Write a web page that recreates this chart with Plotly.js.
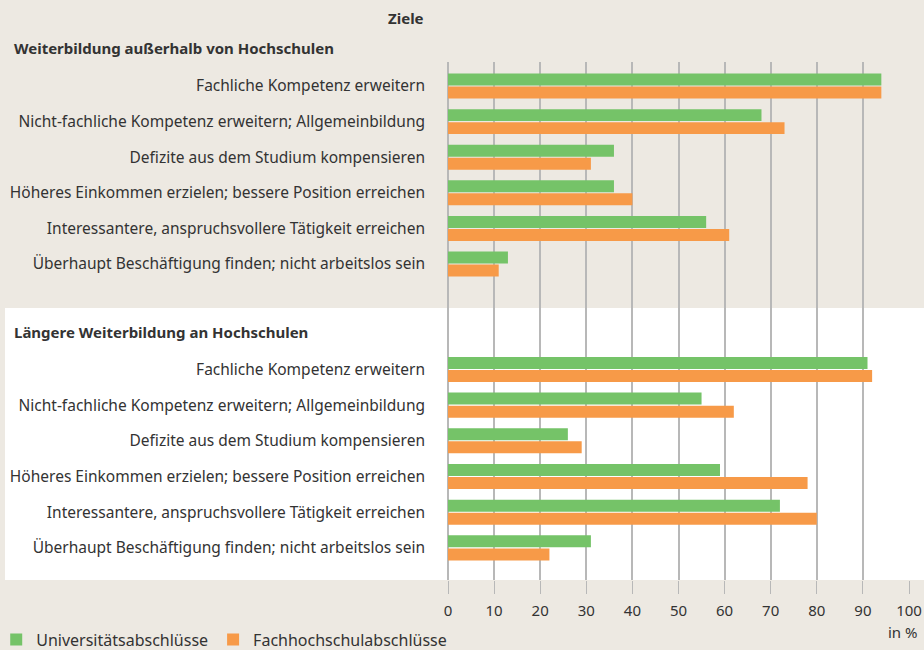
<!DOCTYPE html>
<html>
<head>
<meta charset="utf-8">
<script src="https://cdn.plot.ly/plotly-3.0.1.min.js"></script>
<style>html,body{margin:0;padding:0;background:#EDE9E2;}</style>
</head>
<body>
<div id="chart" style="width:924px;height:650px;"></div>
<script>
const categories = [
  "Fachliche Kompetenz erweitern",
  "Nicht-fachliche Kompetenz erweitern; Allgemeinbildung",
  "Defizite aus dem Studium kompensieren",
  "Höheres Einkommen erzielen; bessere Position erreichen",
  "Interessantere, anspruchsvollere Tätigkeit erreichen",
  "Überhaupt Beschäftigung finden; nicht arbeitslos sein"
];
const seriesNames = ["Universitätsabschlüsse", "Fachhochschulabschlüsse"];
const uniOutside = [94, 68, 36, 36, 56, 13];
const fhOutside  = [94, 73, 31, 40, 61, 11];
const uniHochschule = [91, 55, 26, 59, 72, 31];
const fhHochschule  = [92, 62, 29, 78, 80, 22];
const tickVals = [0, 10, 20, 30, 40, 50, 60, 70, 80, 90, 100];
const sectionTitles = ["Weiterbildung außerhalb von Hochschulen", "Längere Weiterbildung an Hochschulen"];

const green = "#75C368";
const orange = "#F79A48";
const textColor = "#333333";
const gridColor = "#B8B8B8";
const fontFamily = "Noto Sans, sans-serif";

function bar(vals, name, color, yaxis, showlegend) {
  return {
    type: "bar", orientation: "h",
    x: vals, y: categories, name: name,
    marker: {color: color},
    xaxis: "x", yaxis: yaxis,
    showlegend: showlegend, legendgroup: name,
    hoverinfo: "x+y"
  };
}

const data = [
  bar(uniOutside, seriesNames[0], green, "y", true),
  bar(fhOutside, seriesNames[1], orange, "y", true),
  bar(uniHochschule, seriesNames[0], green, "y2", false),
  bar(fhHochschule, seriesNames[1], orange, "y2", false)
];

const yCommon = {
  type: "category",
  showgrid: false, zeroline: false, showline: false,
  ticks: "", ticklabelstandoff: 22,
  tickfont: {family: fontFamily, size: 15.5, color: textColor},
  automargin: false,
  fixedrange: true
};

const layout = {
  width: 924, height: 650,
  paper_bgcolor: "#EDE9E2",
  plot_bgcolor: "rgba(0,0,0,0)",
  margin: {l: 448, r: 15, t: 62, b: 70, autoexpand: false},
  barmode: "group",
  bargap: 0.27,
  bargroupgap: 0.08,
  font: {family: fontFamily, color: textColor},
  xaxis: {
    anchor: "y2",
    range: [0, 100],
    tickvals: tickVals,
    showgrid: true, gridcolor: gridColor, gridwidth: 2,
    zeroline: true, zerolinecolor: gridColor, zerolinewidth: 2,
    showline: false,
    ticks: "outside", ticklen: 13, tickcolor: gridColor, tickwidth: 1,
    ticklabelstandoff: 4,
    tickfont: {family: fontFamily, size: 15, color: textColor},
    automargin: false,
    fixedrange: true
  },
  yaxis: Object.assign({}, yCommon, {domain: [0.525, 1], range: [6.236, -0.674]}),
  yaxis2: Object.assign({}, yCommon, {domain: [0, 0.525], range: [5.90, -1.72]}),
  showlegend: true,
  legend: {
    orientation: "h",
    x: -0.98, xanchor: "left",
    y: -0.115, yanchor: "middle",
    bgcolor: "rgba(0,0,0,0)",
    font: {family: fontFamily, size: 16, color: textColor},
    traceorder: "normal"
  },
  shapes: [{
    type: "rect", layer: "below",
    xref: "paper", yref: "paper",
    x0: -0.961, x1: 1.04, y0: 0, y1: 0.525,
    fillcolor: "#FFFFFF", line: {width: 0}
  }],
  annotations: [
    {text: "<b>Ziele</b>", xref: "paper", yref: "paper", x: -0.048, y: 1.085,
     xanchor: "right", yanchor: "middle", showarrow: false,
     font: {family: fontFamily, size: 15, color: textColor}},
    {text: "<b>" + sectionTitles[0] + "</b>", xref: "paper", yref: "paper", x: -0.946, y: 1.027,
     xanchor: "left", yanchor: "middle", showarrow: false,
     font: {family: fontFamily, size: 15, color: textColor}},
    {text: "<b>" + sectionTitles[1] + "</b>", xref: "paper", yref: "paper", x: -0.946, y: 0.479,
     xanchor: "left", yanchor: "middle", showarrow: false,
     font: {family: fontFamily, size: 15, color: textColor}},
    {text: "in %", xref: "paper", yref: "paper", x: 1.024, y: -0.1,
     xanchor: "right", yanchor: "middle", showarrow: false,
     font: {family: fontFamily, size: 15, color: textColor}}
  ]
};

Plotly.newPlot("chart", data, layout, {displayModeBar: false, staticPlot: true});
</script>
</body>
</html>
